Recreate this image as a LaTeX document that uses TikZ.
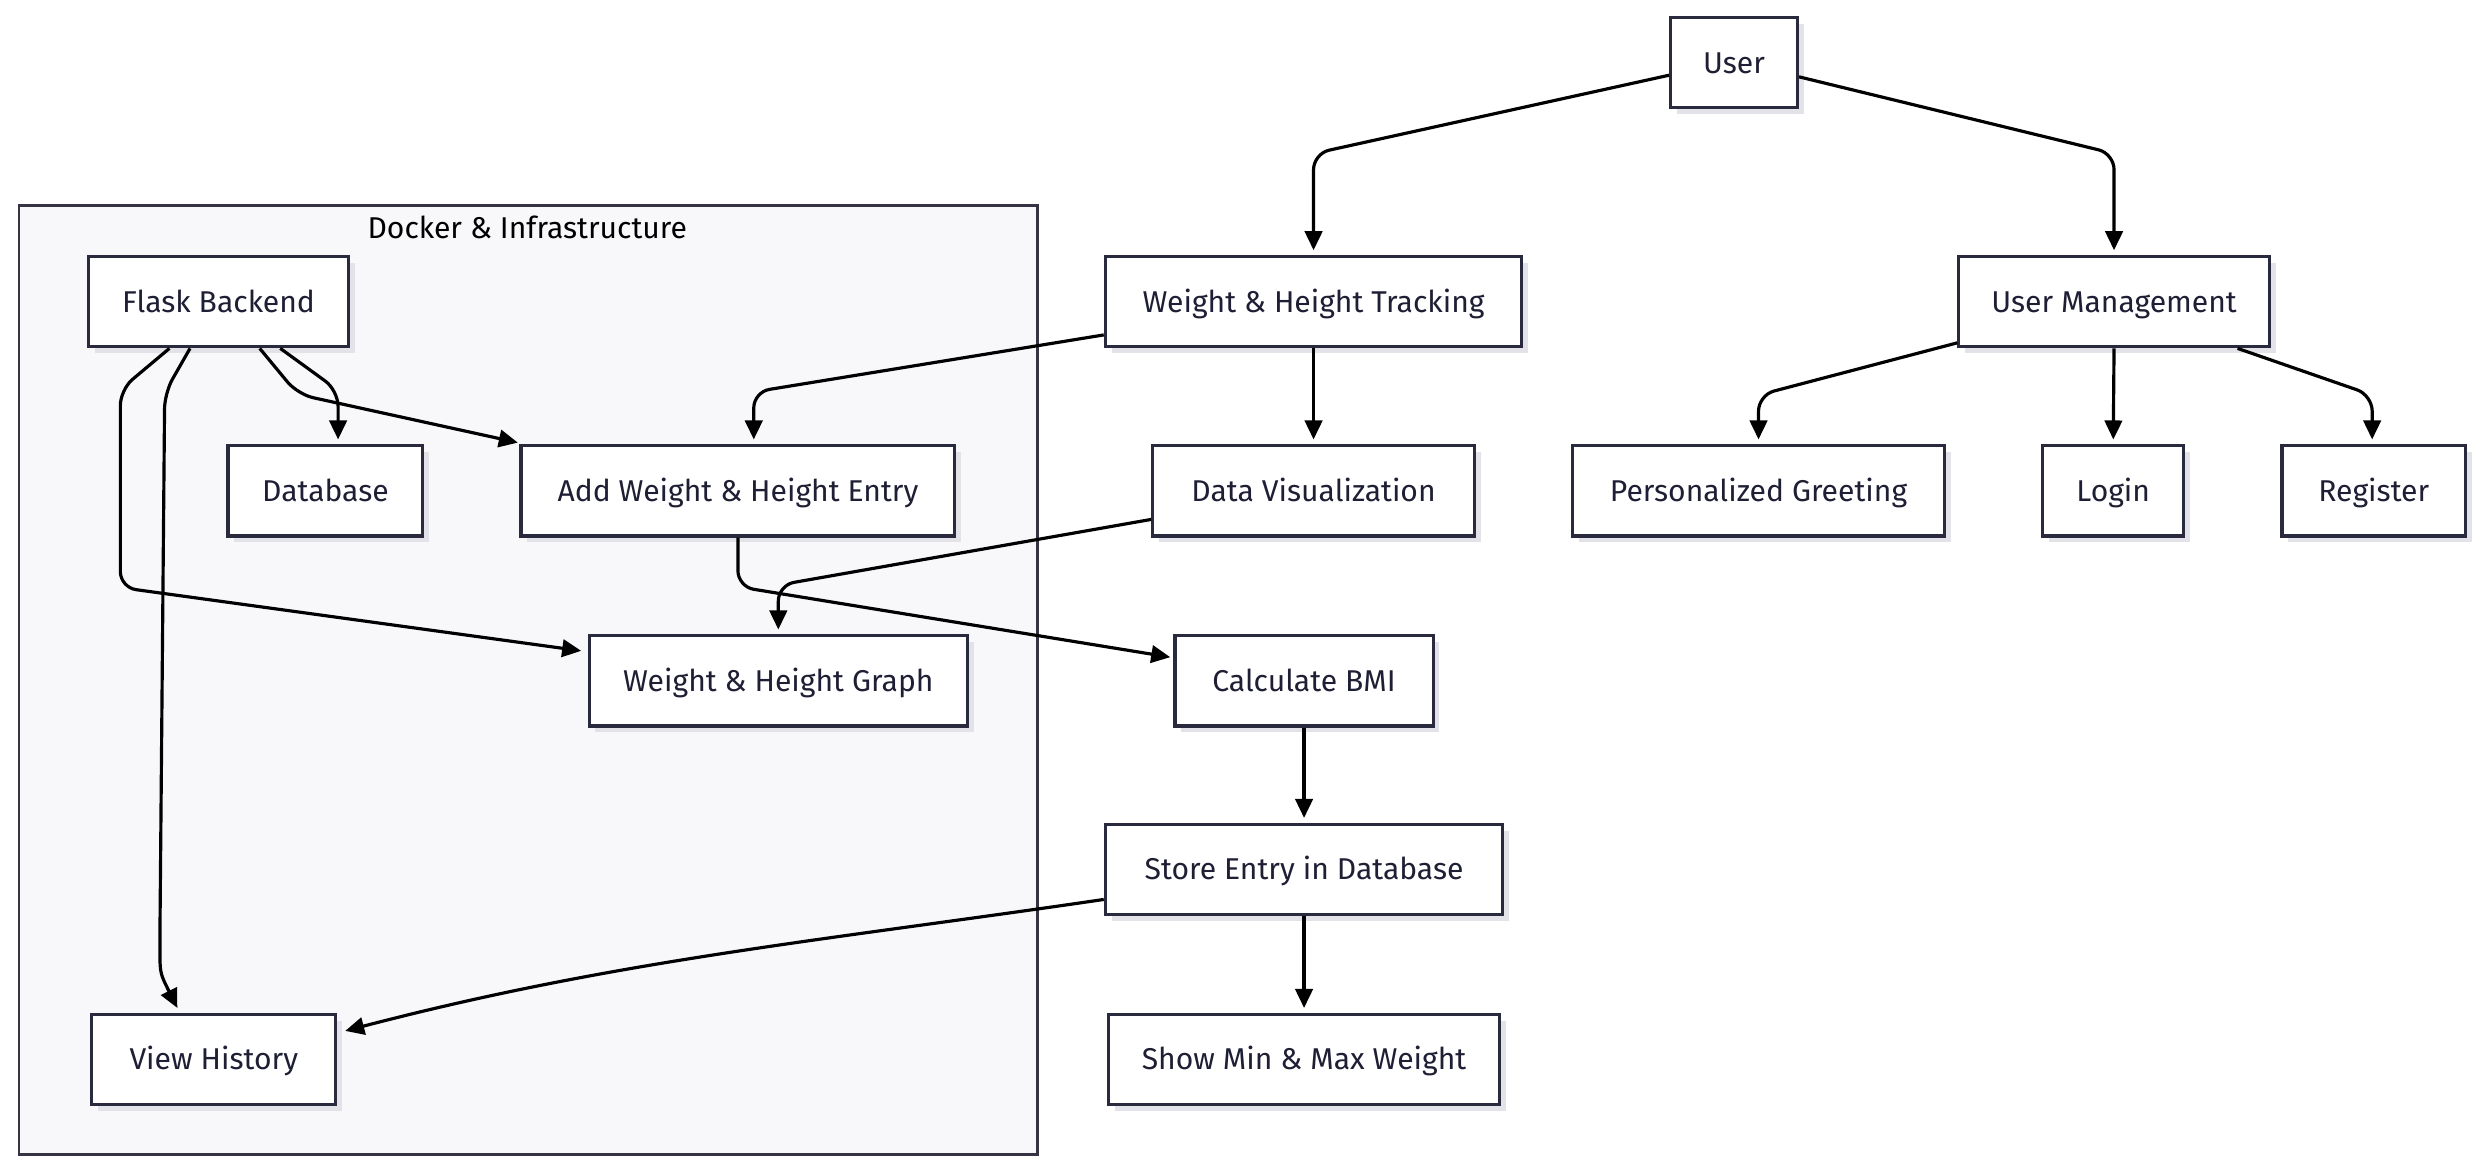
\documentclass[tikz,border=0pt]{standalone}
\usepackage{fontspec}
\setmainfont{Fira Sans}
\usetikzlibrary{arrows.meta,shadows,calc}
\definecolor{nodeborder}{RGB}{42,42,62}
\definecolor{nodetext}{RGB}{30,30,52}
\definecolor{clusterborder}{RGB}{52,52,66}
\definecolor{clusterfill}{RGB}{248,248,250}
\definecolor{shadowgray}{RGB}{226,226,232}
\begin{document}
\begin{tikzpicture}[x=1pt,y=-1pt,
  box/.style={draw=nodeborder, line width=2pt, fill=white, text=nodetext,
    minimum height=57pt, inner sep=0pt, font=\fontsize{19}{22}\selectfont,
    text height=13.2pt, text depth=0pt,
    drop shadow={shadow xshift=4pt, shadow yshift=-4pt, fill=shadowgray, opacity=1}},
  arr/.style={draw=black, line width=2pt, rounded corners=10pt,
    -{Triangle[length=12pt,width=11pt]}},
]
\useasboundingbox (0,0) rectangle (1568,740);
% cluster
\draw[draw=clusterborder, line width=1.8pt, fill=clusterfill] (12,130) rectangle (655,729);
\node[text=black, font=\fontsize{19}{22}\selectfont, text height=13.2pt, text depth=0pt, inner sep=0pt] (ctitle) at (333,144) {Docker \& Infrastructure};
% nodes
\node[box, minimum width=80pt]  (user)   at (1095,39.5) {User};
\node[box, minimum width=263pt] (wht)    at (829.5,190.5) {Weight \& Height Tracking};
\node[box, minimum width=196pt] (um)     at (1335,190.5) {User Management};
\node[box, minimum width=164pt] (flask)  at (138,190.5) {Flask Backend};
\node[box, minimum width=123pt] (db)     at (205.5,310) {Database};
\node[box, minimum width=274pt] (add)    at (466,310) {Add Weight \& Height Entry};
\node[box, minimum width=203pt] (dv)     at (829.5,310) {Data Visualization};
\node[box, minimum width=235pt] (pg)     at (1110.5,310) {Personalized Greeting};
\node[box, minimum width=89pt]  (login)  at (1334.5,310) {Login};
\node[box, minimum width=116pt] (reg)    at (1499,310) {Register};
\node[box, minimum width=239pt] (graph)  at (491.5,430) {Weight \& Height Graph};
\node[box, minimum width=163pt] (bmi)    at (823.5,430) {Calculate BMI};
\node[box, minimum width=251pt] (store)  at (823.5,549) {Store Entry in Database};
\node[box, minimum width=154pt] (vh)     at (135,669) {View History};
\node[box, minimum width=247pt] (minmax) at (823.5,669) {Show Min \& Max Weight};
% edges
\draw[arr] ([yshift=-8pt]user.west) -- ([yshift=64pt]wht.north) -- ([yshift=3pt]wht.north);
\draw[arr] ([yshift=-9pt]user.east) -- ([yshift=64pt]um.north) -- ([yshift=3pt]um.north);
\draw[arr] ([yshift=-21pt]wht.west) -- ([xshift=10pt,yshift=33pt]add.north) -- ([xshift=10pt,yshift=3pt]add.north);
\draw[arr] (wht.south) -- ([yshift=3pt]dv.north);
\draw[arr] ([yshift=-26pt]um.west) -- ([yshift=31pt]pg.north) -- ([yshift=3pt]pg.north);
\draw[arr] (um.south) -- ([yshift=3pt]login.north);
\draw[arr] ([xshift=78pt]um.south) -- ([xshift=-1pt,yshift=31pt]reg.north) -- ([xshift=-1pt,yshift=3pt]reg.north);
\draw[arr] ([yshift=-18pt]dv.west) -- ([yshift=31pt]graph.north) -- ([yshift=3pt]graph.north);
\draw[arr] (add.south) -- ([yshift=-31pt]add.south) -- ([xshift=-2pt,yshift=15pt]bmi.west);
\draw[arr] ([xshift=39pt]flask.south) -- ([xshift=8pt,yshift=34pt]db.north) -- ([xshift=8pt,yshift=3pt]db.north);
\draw[arr] ([xshift=26pt]flask.south) -- ([xshift=50pt,yshift=-29pt]flask.south) -- ([xshift=-1pt,yshift=1pt]add.north west);
\draw[arr] ([xshift=-31pt]flask.south) -- ([xshift=-62pt,yshift=-26pt]flask.south) -- ([xshift=-62pt,yshift=-151pt]flask.south) -- ([xshift=-4pt,yshift=19pt]graph.west);
\draw[arr] ([xshift=-18pt]flask.south) -- ([xshift=-34pt,yshift=-28pt]flask.south) -- ([xshift=-34pt,yshift=50pt]vh.north)
   .. controls ([xshift=-34pt,yshift=25pt]vh.north) .. ([xshift=-23pt,yshift=3pt]vh.north);
\coordinate (sc1) at (520,594);
\coordinate (sc2) at (390,606);
\draw[arr] ([yshift=-19pt]store.west) .. controls (sc1) and (sc2) .. ([xshift=5pt,yshift=18pt]vh.east);
\draw[arr] (bmi.south) -- ([yshift=3pt]store.north);
\draw[arr] (store.south) -- ([yshift=3pt]minmax.north);
\end{tikzpicture}
\end{document}
